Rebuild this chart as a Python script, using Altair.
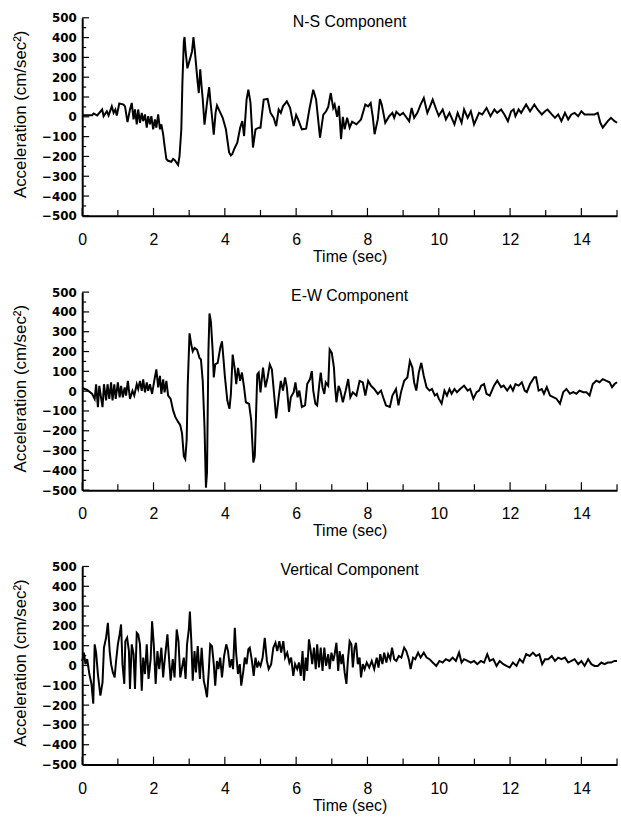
import altair as alt
import pandas as pd

# ---- data (time in s, acceleration in cm/sec^2) ----
ns_pts = [(0,8),(.28,8),(.32,17),(.42,7),(.56,37),(.60,3),(.69,28),(.74,7),(.83,53),(.88,20),(.93,37),(.97,7),
 (1.04,67),(1.16,62),(1.20,53),(1.27,-27),(1.34,37),(1.39,70),(1.44,-13),(1.48,37),(1.53,-38),(1.57,37),(1.62,-30),
 (1.67,20),(1.71,-22),(1.76,12),(1.81,-55),(1.85,3),(1.90,-38),(1.94,3),(1.99,-63),(2.04,-13),(2.08,-55),(2.13,12),
 (2.18,-63),(2.22,-38),(2.27,-88),(2.31,-147),(2.36,-213),(2.41,-222),(2.50,-227),(2.55,-213),(2.59,-218),(2.64,-230),
 (2.69,-243),(2.73,-197),(2.78,-63),(2.81,170),(2.85,380),(2.87,403),(2.90,330),(2.95,245),(3.02,290),(3.08,330),
 (3.12,403),(3.16,330),(3.20,250),(3.24,170),(3.27,120),(3.31,240),(3.35,150),(3.38,90),(3.43,-40),(3.50,70),
 (3.56,150),(3.60,70),(3.63,20),(3.69,-90),(3.74,20),(3.78,57),(3.85,30),(3.94,-5),(4.03,-63),(4.12,-180),
 (4.17,-195),(4.21,-188),(4.27,-160),(4.35,-130),(4.43,-55),(4.49,-22),(4.54,-97),(4.61,87),(4.66,137),(4.72,70),
 (4.79,-155),(4.86,-63),(4.95,-55),(5.00,-55),(5.09,87),(5.20,90),(5.28,20),(5.37,-5),(5.44,-47),(5.51,37),
 (5.57,20),(5.63,53),(5.74,78),(5.83,45),(5.93,-47),(6.00,10),(6.06,-15),(6.16,-63),(6.28,-60),(6.37,37),
 (6.48,137),(6.56,87),(6.67,-105),(6.76,10),(6.84,28),(6.90,50),(6.97,120),(7.04,45),(7.08,62),(7.15,0),
 (7.20,55),(7.26,-113),(7.31,0),(7.36,-63),(7.43,-5),(7.50,-55),(7.57,-25),(7.69,-38),(7.82,-13),(7.94,62),
 (8.02,53),(8.09,70),(8.15,0),(8.20,-88),(8.29,-13),(8.35,90),(8.40,62),(8.50,-30),(8.61,3),(8.70,20),(8.75,-5),
 (8.81,25),(8.91,8),(9.00,20),(9.07,3),(9.17,-22),(9.24,45),(9.31,-5),(9.40,20),(9.49,62),(9.58,95),(9.68,20),
 (9.74,45),(9.83,87),(9.93,37),(10.0,5),(10.11,37),(10.2,-13),(10.3,20),(10.44,-38),(10.53,20),(10.64,-30),
 (10.71,37),(10.81,-5),(10.9,28),(10.99,-38),(11.13,20),(11.22,12),(11.34,45),(11.45,3),(11.56,37),(11.64,20),
 (11.75,37),(11.84,12),(11.94,-22),(12.03,28),(12.1,37),(12.15,3),(12.24,37),(12.31,20),(12.45,62),(12.56,28),
 (12.68,62),(12.77,37),(12.89,12),(12.98,28),(13.05,37),(13.17,12),(13.26,-5),(13.35,12),(13.44,-22),(13.54,20),
 (13.63,-13),(13.72,12),(13.81,20),(13.91,3),(14.0,28),(14.09,12),(14.23,12),(14.37,12),(14.46,20),(14.53,-30),
 (14.6,-55),(14.74,-22),(14.83,-5),(14.93,-22),(15.0,-30)]

ew_pts = [(0,16),(.14,6),(.28,-14),(.35,-39),(.39,35),(.44,-81),(.48,27),(.54,-47),(.57,-81),(.61,35),(.67,-47),
 (.71,35),(.76,-39),(.81,44),(.85,-47),(.90,35),(.94,-39),(1.0,44),(1.05,-31),(1.09,27),(1.14,-31),(1.19,19),
 (1.23,-22),(1.28,52),(1.34,-39),(1.41,2),(1.46,-22),(1.53,35),(1.57,11),(1.62,52),(1.67,2),(1.71,60),(1.76,-6),
 (1.81,44),(1.85,2),(1.90,35),(1.96,-14),(2.02,52),(2.08,110),(2.13,19),(2.18,77),(2.22,-14),(2.27,60),(2.31,-6),
 (2.36,52),(2.41,-22),(2.48,-39),(2.55,-97),(2.61,-130),(2.69,-155),(2.75,-172),(2.80,-213),(2.85,-329),
 (2.89,-343),(2.93,-246),(2.96,35),(3.01,292),(3.06,234),(3.10,201),(3.15,218),(3.22,210),(3.29,168),(3.33,160),
 (3.38,52),(3.43,-180),(3.47,-487),(3.50,-412),(3.54,201),(3.57,392),(3.61,350),(3.66,201),(3.69,69),(3.73,135),
 (3.80,143),(3.87,218),(3.92,251),(3.96,168),(4.0,77),(4.07,-47),(4.13,-89),(4.17,-14),(4.22,185),(4.28,110),
 (4.32,35),(4.37,118),(4.43,52),(4.48,94),(4.54,19),(4.59,-56),(4.68,-64),(4.74,-147),(4.80,-360),(4.84,-329),
 (4.91,85),(4.95,94),(5.0,-6),(5.07,119),(5.14,19),(5.20,69),(5.26,135),(5.32,110),(5.39,-31),(5.44,-138),
 (5.51,-31),(5.57,52),(5.63,3),(5.69,69),(5.74,19),(5.80,-105),(5.85,-31),(5.93,-6),(5.98,44),(6.04,-31),
 (6.09,3),(6.16,-80),(6.25,-72),(6.31,36),(6.39,61),(6.44,102),(6.48,3),(6.54,-64),(6.59,-72),(6.65,36),
 (6.69,94),(6.74,19),(6.79,-14),(6.83,44),(6.90,27),(6.94,210),(7.0,193),(7.06,119),(7.09,27),(7.13,-56),
 (7.19,27),(7.24,3),(7.31,-56),(7.39,3),(7.46,61),(7.52,-31),(7.59,-6),(7.69,-22),(7.78,52),(7.87,44),
 (7.94,-22),(8.02,52),(8.10,27),(8.19,11),(8.29,-14),(8.38,3),(8.44,-31),(8.52,-72),(8.63,-80),(8.70,-22),
 (8.80,11),(8.87,-72),(8.94,-6),(9.03,52),(9.12,69),(9.19,152),(9.26,119),(9.31,44),(9.37,3),(9.44,94),
 (9.51,143),(9.58,77),(9.66,19),(9.74,3),(9.81,11),(9.89,-22),(9.95,-14),(10.0,-38),(10.08,-63),(10.16,3),
 (10.23,-22),(10.3,11),(10.36,-13),(10.44,11),(10.51,-5),(10.6,11),(10.71,28),(10.81,3),(10.88,11),(10.97,-38),
 (11.06,-5),(11.13,3),(11.19,28),(11.27,36),(11.34,-13),(11.43,-22),(11.55,28),(11.64,53),(11.75,20),(11.82,28),
 (11.92,3),(12.01,28),(12.08,3),(12.15,36),(12.24,28),(12.33,45),(12.41,3),(12.47,-5),(12.56,36),(12.68,70),
 (12.73,70),(12.8,3),(12.89,11),(12.95,-13),(13.03,20),(13.12,-22),(13.21,-30),(13.3,-38),(13.4,-63),(13.49,-5),
 (13.58,11),(13.68,-13),(13.77,-5),(13.86,-13),(13.95,3),(14.05,-5),(14.14,-5),(14.23,-22),(14.32,36),(14.42,53),
 (14.51,45),(14.6,61),(14.69,53),(14.79,45),(14.86,20),(14.93,36),(15.0,45)]

vt_pts = [(0,23),(.05,65),(.09,7),(.14,32),(.20,-43),(.26,-93),(.31,-193),(.35,107),(.39,65),(.44,-43),(.51,-152),
 (.57,-85),(.61,90),(.67,140),(.72,215),(.77,73),(.81,7),(.86,-35),(.91,-60),(.95,23),(1.0,107),(1.05,157),
 (1.09,207),(1.13,7),(1.18,-93),(1.21,123),(1.26,140),(1.31,73),(1.34,-118),(1.39,107),(1.44,57),(1.48,-118),
 (1.53,165),(1.57,157),(1.62,107),(1.67,-127),(1.71,40),(1.76,-43),(1.81,107),(1.86,-68),(1.92,32),(1.96,223),
 (2.01,98),(2.06,-93),(2.11,73),(2.16,-18),(2.22,90),(2.27,-60),(2.31,23),(2.39,157),(2.44,23),(2.48,-77),
 (2.54,32),(2.59,-60),(2.65,182),(2.70,123),(2.75,-60),(2.80,-10),(2.85,40),(2.90,-68),(2.94,107),(2.99,182),
 (3.02,273),(3.06,123),(3.10,-77),(3.15,73),(3.19,-35),(3.24,98),(3.30,-68),(3.35,90),(3.41,-77),(3.45,-110),
 (3.50,-160),(3.55,-27),(3.59,107),(3.64,98),(3.69,7),(3.73,-102),(3.78,23),(3.82,-18),(3.87,40),(3.92,-60),
 (3.98,48),(4.04,107),(4.09,73),(4.14,-10),(4.19,32),(4.23,-18),(4.28,190),(4.32,57),(4.37,-43),(4.42,7),
 (4.46,-102),(4.52,-27),(4.56,40),(4.61,7),(4.66,82),(4.70,90),(4.76,23),(4.81,-52),(4.86,40),(4.91,-10),
 (4.95,15),(5.0,-2),(5.06,40),(5.12,140),(5.18,23),(5.23,-18),(5.30,7),(5.36,90),(5.42,115),(5.47,73),
 (5.53,123),(5.58,65),(5.64,123),(5.69,40),(5.75,65),(5.81,15),(5.86,40),(5.92,-52),(5.97,7),(6.03,-18),
 (6.08,15),(6.13,-52),(6.18,73),(6.22,-77),(6.27,40),(6.31,-27),(6.36,132),(6.41,73),(6.45,7),(6.50,90),
 (6.55,-18),(6.59,107),(6.64,-10),(6.69,90),(6.74,-27),(6.79,90),(6.84,-2),(6.90,57),(6.94,-18),(6.99,65),
 (7.04,23),(7.08,57),(7.13,115),(7.18,-27),(7.22,73),(7.27,7),(7.31,57),(7.36,-35),(7.41,-93),(7.45,23),
 (7.50,123),(7.55,107),(7.59,-10),(7.64,90),(7.68,115),(7.73,7),(7.78,40),(7.82,-60),(7.87,7),(7.92,-18),
 (7.98,15),(8.05,-10),(8.12,23),(8.19,-18),(8.26,40),(8.31,-10),(8.36,57),(8.42,7),(8.47,65),(8.53,15),
 (8.58,57),(8.64,32),(8.69,90),(8.75,32),(8.81,23),(8.88,48),(8.95,40),(9.03,90),(9.09,73),(9.16,32),
 (9.21,-18),(9.28,40),(9.34,32),(9.42,65),(9.49,40),(9.58,65),(9.66,40),(9.74,32),(9.83,15),(9.93,-2),
 (10.02,23),(10.11,15),(10.2,32),(10.3,23),(10.39,40),(10.48,23),(10.57,65),(10.64,15),(10.71,32),(10.81,23),
 (10.9,15),(10.99,23),(11.08,7),(11.18,23),(11.27,15),(11.36,57),(11.43,23),(11.53,32),(11.62,-2),(11.71,23),
 (11.81,7),(11.9,-2),(11.99,-10),(12.08,15),(12.18,-2),(12.27,32),(12.36,15),(12.45,57),(12.55,48),(12.64,65),
 (12.73,48),(12.82,57),(12.9,7),(12.98,32),(13.07,32),(13.17,48),(13.26,23),(13.35,40),(13.44,32),(13.54,40),
 (13.63,15),(13.72,23),(13.81,32),(13.91,7),(14.0,23),(14.09,-2),(14.19,32),(14.28,7),(14.37,-2),(14.46,-2),
 (14.56,15),(14.65,7),(14.74,15),(14.83,15),(14.93,23),(15.0,23)]

panel_titles = ["N-S Component", "E-W Component", "Vertical Component"]
x_major = [0, 2, 4, 6, 8, 10, 12, 14]
x_minor = [1, 3, 5, 7, 9, 11, 13, 15]
y_major = [-500, -400, -300, -200, -100, 0, 100, 200, 300, 400, 500]
y_minor = [-450, -350, -250, -150, -50, 50, 150, 250, 350, 450]
x_title = "Time (sec)"
y_title = "Acceleration (cm/sec²)"

W, H = 540, 200
SANS = "Liberation Sans"


def panel(pts, title):
    df = pd.DataFrame(pts, columns=["t", "a"])
    x_enc = alt.X("t:Q", scale=alt.Scale(domain=[0, 15], nice=False, zero=False),
                  axis=alt.Axis(values=x_major, ticks=False, grid=False, domainColor="black",
                                domainWidth=2, labelFont=SANS, labelFontSize=16, labelColor="black",
                                labelPadding=16, labelFlush=False, title=x_title, titleFont=SANS,
                                titleFontSize=16, titleFontWeight="normal", titleColor="black",
                                titleY=33, titleBaseline="top"))
    y_enc = alt.Y("a:Q", scale=alt.Scale(domain=[-500, 500], nice=False, zero=False),
                  axis=alt.Axis(values=y_major, ticks=False, grid=False, domainColor="black",
                                domainWidth=2, labelFont="DejaVu Sans", labelFontWeight="bold",
                                labelFontSize=12, labelColor="black", labelPadding=6, labelFlush=False,
                                title=y_title, titleFont=SANS, titleFontSize=17,
                                titleFontWeight="normal", titleColor="black", titleX=-62, titleY=97,
                                titleAngle=270, titleBaseline="middle", titleAlign="center"))
    line = alt.Chart(df).mark_line(color="black", strokeWidth=2).encode(x=x_enc, y=y_enc)
    xt_maj = alt.Chart(pd.DataFrame({"t": x_major})).mark_rule(color="black", strokeWidth=1.2).encode(
        x=x_enc, y=alt.value(H), y2=alt.value(H - 8))
    xt_min = alt.Chart(pd.DataFrame({"t": x_minor})).mark_rule(color="black", strokeWidth=1.2).encode(
        x=x_enc, y=alt.value(H), y2=alt.value(H - 6))
    yt_maj = alt.Chart(pd.DataFrame({"a": y_major})).mark_rule(color="black", strokeWidth=1.2).encode(
        y=y_enc, x=alt.value(0), x2=alt.value(7))
    yt_min = alt.Chart(pd.DataFrame({"a": y_minor})).mark_rule(color="black", strokeWidth=1.2).encode(
        y=y_enc, x=alt.value(0), x2=alt.value(4))
    ttl = alt.Chart(pd.DataFrame({"label": [title]})).mark_text(
        font=SANS, fontSize=16, align="center", baseline="alphabetic", color="black").encode(
        text="label:N", x=alt.value(W / 2), y=alt.value(9))
    return alt.layer(line, xt_maj, xt_min, yt_maj, yt_min, ttl).properties(width=W, height=H)


chart = alt.vconcat(
    panel(ns_pts, panel_titles[0]),
    panel(ew_pts, panel_titles[1]),
    panel(vt_pts, panel_titles[2]),
    spacing=77, bounds="flush",
).properties(
    padding={"left": 12, "top": 8, "right": 0, "bottom": 0},
    background="white",
).configure_view(stroke=None)

chart.save("out.html", embed_options={"renderer": "svg", "actions": False})
